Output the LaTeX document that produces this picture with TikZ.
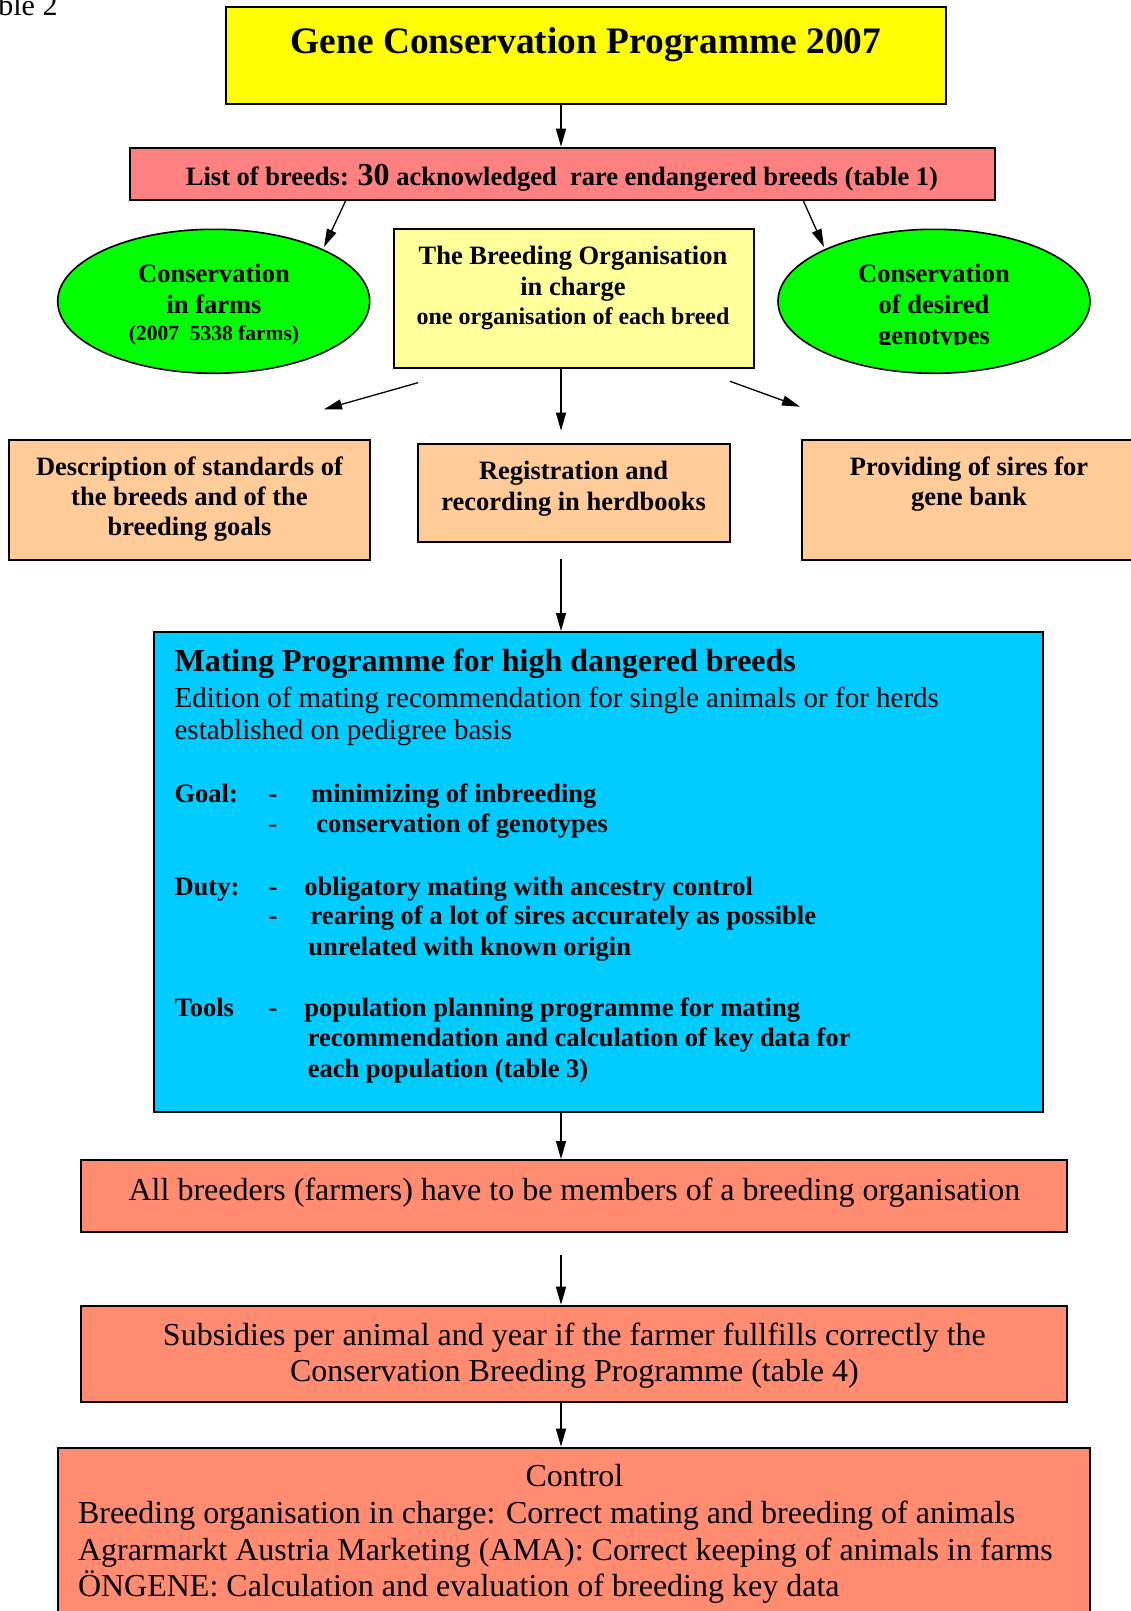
\documentclass[tikz,border=0pt]{standalone}
\usepackage{fontspec}
\setmainfont{Liberation Serif}
\usetikzlibrary{arrows.meta,shapes.geometric,fit}
\definecolor{cTitle}{HTML}{FFFF00}
\definecolor{cList}{HTML}{FF8080}
\definecolor{cGreen}{HTML}{00FF00}
\definecolor{cLight}{HTML}{FFFF99}
\definecolor{cOrange}{HTML}{FFCC99}
\definecolor{cBlue}{HTML}{00CCFF}
\definecolor{cSalmon}{HTML}{FF8C70}
\newcommand{\fs}[1]{\fontsize{#1}{#1}\selectfont}
\tikzset{
  box/.style={draw, line width=2pt, inner sep=0pt},
  oval/.style={ellipse, draw, line width=1.6pt, fill=cGreen, inner sep=0pt},
  arr/.style={-{Triangle[length=18pt,width=10pt]}, line width=1.3pt},
  txt/.style={inner sep=0pt, anchor=base},
  ltxt/.style={inner sep=0pt, anchor=base west},
  bh/.style={font=\fs{37.4}\bfseries},
  bn/.style={font=\fs{26.5}\bfseries},
  bs/.style={font=\fs{24}\bfseries},
  bxs/.style={font=\fs{21.5}\bfseries},
  rn/.style={font=\fs{29}},
  rb/.style={font=\fs{32}},
}
\begin{document}
\begin{tikzpicture}[x=1pt,y=-1pt]
\useasboundingbox (0,0) rectangle (1130,1611);
\fill[white] (0,0) rectangle (1130,1611);

\node[ltxt, anchor=base east, font=\fs{30}] (tab) at (57.7,16) {Table 2};

% title
\node[box, fill=cTitle, fit={(226,7.5) (946,104)}] (title) {};
\node[txt, bh] (titleT) at (586,54) {Gene Conservation Programme 2007};

% list of breeds
\node[box, fill=cList, fit={(130,147.7) (994.5,200)}] (list) {};
\node[txt, font=\fs{26.5}\bfseries] (listT) at (562,185) {List of breeds: {\fs{32}30} acknowledged\ \ rare endangered breeds (table 1)};

% ellipses
\node[oval, minimum width=312pt, minimum height=144pt] (farms) at (213.7,301.3) {};
\node[txt, bn] (farms1) at (214,282.7) {Conservation};
\node[txt, bn] (farms2) at (214,313.3) {in farms};
\node[txt, bxs] (farms3) at (214,340) {(2007\ \ 5338 farms)};

\node[oval, minimum width=312pt, minimum height=144pt] (geno) at (934,301.3) {};
\node[txt, bn] (geno1) at (934,282.7) {Conservation};
\node[txt, bn] (geno2) at (934,313.3) {of desired};
\begin{scope}
\clip (800,318) rectangle (1070,344);
\node[txt, bn] (geno3) at (934,344.5) {genotypes};
\end{scope}

% breeding organisation
\node[box, fill=cLight, fit={(393.5,229) (753.8,368)}] (org) {};
\node[txt, bn] (org1) at (573,264.3) {The Breeding Organisation};
\node[txt, bn] (org2) at (573,295) {in charge};
\node[txt, bs] (org3) at (573,324) {one organisation of each breed};

% orange row
\node[box, fill=cOrange, fit={(9.4,439.7) (369.7,560)}] (desc) {};
\node[txt, bn] (desc1) at (189.5,475) {Description of standards of};
\node[txt, bn] (desc2) at (189.5,505) {the breeds and of the};
\node[txt, bn] (desc3) at (189.5,535) {breeding goals};

\node[box, fill=cOrange, fit={(418,443.7) (730,542)}] (reg) {};
\node[txt, bn] (reg1) at (573.6,479.3) {Registration and};
\node[txt, bn] (reg2) at (573.6,510) {recording in herdbooks};

\node[box, fill=cOrange, fit={(802,439.7) (1145,560)}] (sires) {};
\node[txt, bn] (sires1) at (969,475) {Providing of sires for};
\node[txt, bn] (sires2) at (969,505) {gene bank};

% mating programme
\node[box, fill=cBlue, fit={(153.8,632) (1043,1111.7)}] (mating) {};
\node[ltxt, font=\fs{32}\bfseries] (m1) at (174.4,671.7) {Mating Programme for high dangered breeds};
\node[ltxt, rn] (m2) at (174.4,707.3) {Edition of mating recommendation for single animals or for herds};
\node[ltxt, rn] (m3) at (174.4,739.3) {established on pedigree basis};
\node[ltxt, bn] (goal) at (174.4,802.7) {Goal:};
\node[txt, bn] (gd1) at (273,802.7) {-};
\node[ltxt, bn] (g1) at (311,802.7) {minimizing of inbreeding};
\node[txt, font=\fs{26.5}] (gd2) at (273,832.7) {-};
\node[ltxt, bn] (g2) at (316.2,832.7) {conservation of genotypes};
\node[ltxt, bn] (duty) at (174.4,895) {Duty:};
\node[txt, bn] (dd1) at (273,895) {-};
\node[ltxt, bn] (d1) at (304.2,895) {obligatory mating with ancestry control};
\node[txt, bn] (dd2) at (273,924.3) {-};
\node[ltxt, bn] (d2) at (310.5,924.3) {rearing of a lot of sires accurately as possible};
\node[ltxt, bn] (d3) at (308.2,955) {unrelated with known origin};
\node[ltxt, bn] (tools) at (174.4,1016.7) {Tools};
\node[txt, bn] (td1) at (273,1016.7) {-};
\node[ltxt, bn] (t1) at (304.2,1016.7) {population planning programme for mating};
\node[ltxt, bn] (t2) at (307.6,1046.7) {recommendation and calculation of key data for};
\node[ltxt, bn] (t3) at (307.6,1077.7) {each population (table 3)};

% bottom boxes
\node[box, fill=cSalmon, fit={(81.4,1160) (1066.6,1232.3)}] (members) {};
\node[txt, rb] (membersT) at (574.4,1200) {All breeders (farmers) have to be members of a breeding organisation};

\node[box, fill=cSalmon, fit={(81.4,1305.7) (1066.6,1401.7)}] (subs) {};
\node[txt, rb] (subs1) at (574.4,1345) {Subsidies per animal and year if the farmer fullfills correctly the};
\node[txt, rb] (subs2) at (574.4,1381.7) {Conservation Breeding Programme (table 4)};

\node[box, fill=cSalmon, fit={(57.7,1447.7) (1089.6,1630)}] (control) {};
\node[txt, rb] (c0) at (574.4,1486.7) {Control};
\node[ltxt, rb] (c1) at (77.8,1523.3) {Breeding organisation in charge: Correct mating and breeding of animals};
\node[ltxt, rb] (c2) at (77.8,1560) {Agrarmarkt Austria Marketing (AMA): Correct keeping of animals in farms};
\node[ltxt, rb] (c3) at (77.8,1596.7) {ÖNGENE: Calculation and evaluation of breeding key data};

% connectors
\coordinate (spine) at (561,0);
\coordinate (lA) at (346,200);  \coordinate (lB) at (324,247);
\coordinate (rA) at (803,200);  \coordinate (rB) at (824,247);
\coordinate (oLA) at (418,382.7); \coordinate (oLB) at (324,409.3);
\coordinate (oRA) at (730,381.3); \coordinate (oRB) at (800,406.7);
\coordinate (oMB) at (561,430.7);
\coordinate (rgA) at (561,559.3);
\coordinate (mbA) at (561,1255);

\draw[arr] (title.south -| spine) -- (list.north -| spine);
\draw[arr] (lA) -- (lB);
\draw[arr] (rA) -- (rB);
\draw[arr] (oLA) -- (oLB);
\draw[arr] (org.south -| spine) -- (oMB);
\draw[arr] (oRA) -- (oRB);
\draw[arr] (rgA) -- (mating.north -| spine);
\draw[arr] (mating.south -| spine) -- (members.north -| spine);
\draw[arr] (mbA) -- (subs.north -| spine);
\draw[arr] (subs.south -| spine) -- (control.north -| spine);
\end{tikzpicture}
\end{document}
